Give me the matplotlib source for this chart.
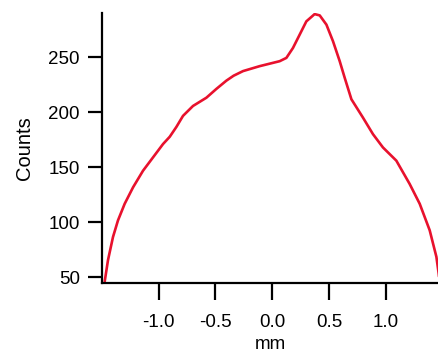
import matplotlib
matplotlib.use("Agg")
import matplotlib.pyplot as plt

plt.rcParams['font.family'] = ['Liberation Sans', 'DejaVu Sans']

# profile
pos_mm = [-1.476, -1.447, -1.403, -1.359, -1.300, -1.226, -1.138, -1.050, -0.962,
          -0.903, -0.844, -0.786, -0.698, -0.580, -0.492, -0.404, -0.340, -0.257,
          -0.110, 0.066, 0.125, 0.183, 0.242, 0.301, 0.374, 0.419, 0.478, 0.536,
          0.595, 0.639, 0.698, 0.800, 0.888, 0.976, 1.094, 1.211, 1.300, 1.388,
          1.447, 1.467, 1.476]
counts = [46.0, 65.4, 86.4, 101.5, 116.6, 131.6, 146.7, 158.8, 170.9,
          177.5, 186.5, 196.5, 205.5, 213.0, 221.0, 228.5, 233.0, 237.2,
          241.7, 246.2, 249.2, 258.2, 270.3, 282.4, 289.0, 287.8, 279.4, 264.3,
          246.2, 231.1, 211.6, 194.9, 179.9, 167.8, 155.8, 134.7, 116.6, 92.5,
          68.4, 53.3, 44.6]
xticks = [-1.0, -0.5, 0.0, 0.5, 1.0]
yticks = [50, 100, 150, 200, 250]

fig = plt.figure(figsize=(4.39, 3.62), dpi=100)
ax = fig.add_axes([0.2323, 0.2182, 0.7677, 0.7459])

ax.plot(pos_mm, counts, '-', color='#E8112D', linewidth=1.9,
        solid_joinstyle='round', solid_capstyle='round')

ax.set_xlim(-1.5, 1.47)
ax.set_ylim(44.6, 290)
ax.set_xticks(xticks)
ax.set_xticklabels([f"{v:.1f}" for v in xticks])
ax.set_yticks(yticks)

for side in ['top', 'right']:
    ax.spines[side].set_visible(False)
for side in ['left', 'bottom']:
    ax.spines[side].set_linewidth(1.6)

ax.tick_params(axis='y', direction='out', length=10, width=1.6, pad=6, labelsize=13.5)
ax.tick_params(axis='x', direction='out', length=12, width=1.6, pad=10, labelsize=13.5)

ax.set_xlabel('mm', fontsize=13.5, labelpad=4)
ax.set_ylabel('Counts', fontsize=14.5, labelpad=10)

plt.savefig('out.png', dpi=100)
plt.close('all')
